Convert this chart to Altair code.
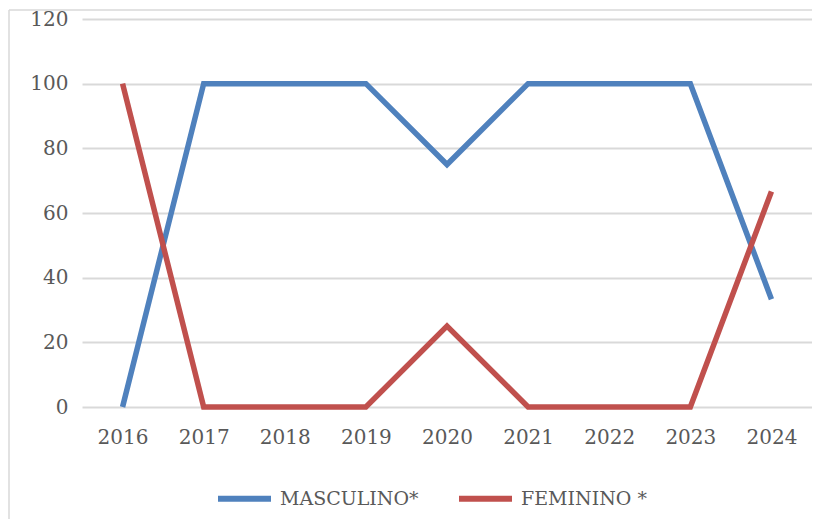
import altair as alt
import pandas as pd

years = ["2016", "2017", "2018", "2019", "2020", "2021", "2022", "2023", "2024"]
masculino = [0, 100, 100, 100, 75, 100, 100, 100, 33.33]
feminino = [100, 0, 0, 0, 25, 0, 0, 0, 66.67]
series_names = ["MASCULINO*", "FEMININO *"]
colors = ["#4F81BD", "#C0504D"]

rows = []
for y, m, f in zip(years, masculino, feminino):
    rows.append({"year": y, "serie": series_names[0], "value": m})
    rows.append({"year": y, "serie": series_names[1], "value": f})
df = pd.DataFrame(rows)

W, H = 730, 388
FONT = "DejaVu Serif"

one = pd.DataFrame({"a": [0]})
frame_left = alt.Chart(one).mark_rule(stroke="#D9D9D9", strokeWidth=1.5, clip=False).encode(
    x=alt.value(-73), y=alt.value(-9), y2=alt.value(H + 300)
)
frame_top = alt.Chart(one).mark_rule(stroke="#D9D9D9", strokeWidth=1.5, clip=False).encode(
    y=alt.value(-9), x=alt.value(-73), x2=alt.value(W + 40)
)

lines = alt.Chart(df).mark_line(strokeWidth=5.5, strokeCap="butt", strokeJoin="miter").encode(
    x=alt.X("year:N", sort=years, scale=alt.Scale(type="point", padding=0.5),
            axis=alt.Axis(title=None, labelAngle=0, domain=False, ticks=False, grid=False,
                          labelFont=FONT, labelFontSize=20, labelColor="#595959",
                          labelPadding=20)),
    y=alt.Y("value:Q", scale=alt.Scale(domain=[0, 120], nice=False),
            axis=alt.Axis(title=None, values=[0, 20, 40, 60, 80, 100, 120], domain=False, ticks=False,
                          gridColor="#D9D9D9", gridWidth=2,
                          labelFont=FONT, labelFontSize=20, labelColor="#595959",
                          labelPadding=14)),
    color=alt.Color("serie:N", sort=series_names,
                    scale=alt.Scale(domain=series_names, range=colors),
                    legend=alt.Legend(title=None, orient="none", direction="horizontal",
                                      legendX=133, legendY=450,
                                      symbolType="stroke", symbolSize=2809, symbolStrokeWidth=6,
                                      labelFont=FONT, labelFontSize=19, labelColor="#595959",
                                      columnPadding=28, labelOffset=6, symbolLimit=0)),
    detail="serie:N",
)

chart = alt.layer(frame_left, frame_top, lines).properties(
    width=W, height=H,
    background="white",
    autosize=alt.AutoSizeParams(type="none"),
    padding={"left": 74, "top": 11, "right": 0, "bottom": 112},
).configure_view(stroke=None)

chart.save("out.html", embed_options={"renderer": "svg", "actions": False})
